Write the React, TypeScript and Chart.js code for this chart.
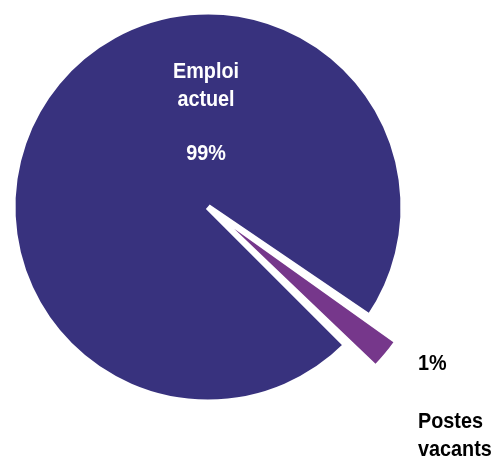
import React, { useEffect, useRef } from "react";
import { Chart, registerables } from "chart.js";

Chart.register(...registerables);

const categories = ["Emploi actuel", "Postes vacants"];
const values = [97, 3];
const percentLabels = ["99%", "1%"];
const sliceColors = ["#38327e", "#76378b"];

const FONT = "bold 22px 'Liberation Sans', Arial, sans-serif";
const SCALE_X = 0.9;
const PIE_RADIUS = 195.5;
const EXPLODE = 136;

const explodeFix = {
  id: "explodeFix",
  afterDatasetsUpdate(chart: any) {
    const meta = chart.getDatasetMeta(0);
    meta.data.forEach((arc: any, i: number) => {
      const off = (chart.data.datasets[0].offset as number[])[i] || 0;
      if (!off) return;
      const circ = arc.endAngle - arc.startAngle;
      const fix = 1 - Math.sin(Math.min(Math.PI, circ));
      arc.outerRadius = PIE_RADIUS - (off / 4) * fix;
    });
  },
};

const textLabels = {
  id: "textLabels",
  afterDraw(chart: any) {
    const ctx = chart.ctx as CanvasRenderingContext2D;
    const arc = chart.getDatasetMeta(0).data[0] as any;
    const cx = arc.x;
    const cy = arc.y;
    const draw = (t: string, x: number, y: number, color: string, align: CanvasTextAlign) => {
      ctx.save();
      ctx.translate(x, y);
      ctx.scale(SCALE_X, 1);
      ctx.font = FONT;
      ctx.fillStyle = color;
      ctx.textAlign = align;
      ctx.textBaseline = "alphabetic";
      ctx.fillText(t, 0, 0);
      ctx.restore();
    };
    const mainLines = categories[0].split(" ");
    draw(mainLines[0], cx - 2, cy - 129, "#ffffff", "center");
    draw(mainLines[1], cx - 2, cy - 101, "#ffffff", "center");
    draw(percentLabels[0], cx - 2, cy - 47, "#ffffff", "center");
    const sideLines = categories[1].split(" ");
    draw(percentLabels[1], cx + 210, cy + 163, "#000000", "left");
    draw(sideLines[0], cx + 210, cy + 221, "#000000", "left");
    draw(sideLines[1], cx + 210, cy + 249, "#000000", "left");
  },
};

export default function App() {
  const ref = useRef<HTMLCanvasElement | null>(null);
  useEffect(() => {
    if (!ref.current) return;
    const chart = new Chart(ref.current, {
      type: "pie",
      data: {
        labels: categories,
        datasets: [
          {
            data: values,
            backgroundColor: sliceColors,
            borderColor: ["#ffffff", "#76378b"],
            borderWidth: [6, 0],
            offset: [0, EXPLODE],
          } as any,
        ],
      },
      options: {
        animation: false,
        responsive: false,
        maintainAspectRatio: false,
        rotation: 135,
        radius: PIE_RADIUS,
        layout: { padding: { left: 0, top: 0, right: 78, bottom: 44 } },
        plugins: {
          legend: { display: false },
          tooltip: { enabled: false },
        },
        events: [],
      } as any,
      plugins: [explodeFix, textLabels],
    });
    return () => chart.destroy();
  }, []);
  return (
    <div style={{ position: "absolute", left: 0, top: 0, width: 494, height: 458, background: "#ffffff" }}>
      <canvas ref={ref} width={494} height={458} style={{ width: 494, height: 458, display: "block" }} />
    </div>
  );
}
